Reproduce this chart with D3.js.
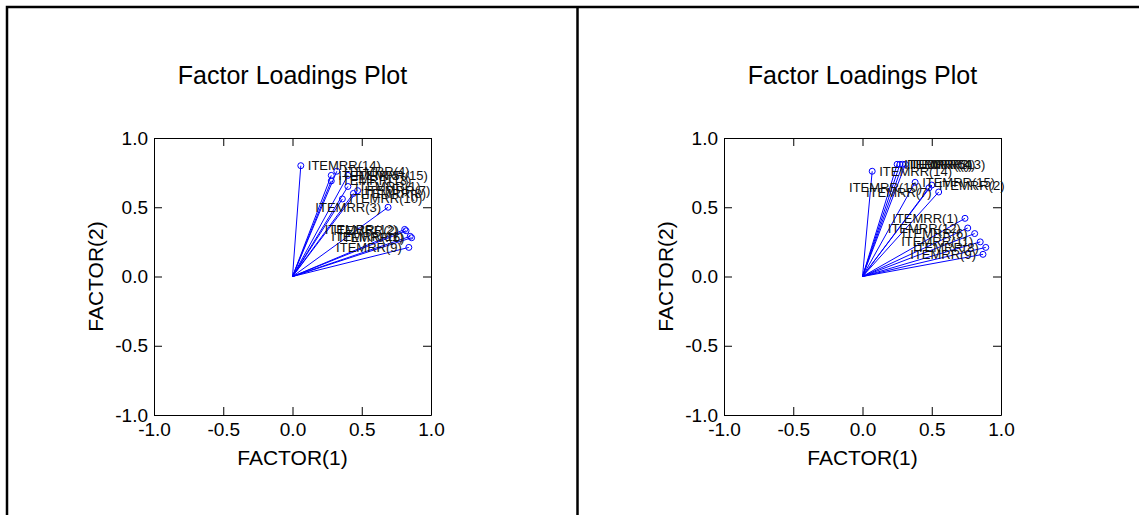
<!DOCTYPE html>
<html>
<head>
<meta charset="utf-8">
<script src="https://cdn.jsdelivr.net/npm/d3@7"></script>
<style>
body { margin: 0; background: #fff; }
text { font-family: Arial, "Liberation Sans", sans-serif; }
</style>
</head>
<body>
<script>
var width = 1139, height = 515;

// item names (same order for both panels)
var items = ["ITEMRR(1)", "ITEMRR(2)", "ITEMRR(3)", "ITEMRR(4)", "ITEMRR(5)",
    "ITEMRR(6)", "ITEMRR(7)", "ITEMRR(8)", "ITEMRR(9)", "ITEMRR(10)",
    "ITEMRR(11)", "ITEMRR(12)", "ITEMRR(13)", "ITEMRR(14)", "ITEMRR(15)"];

// left panel loadings
var leftF1 = [0.40, 0.82, 0.69, 0.32, 0.28, 0.86, 0.47, 0.44, 0.84, 0.36, 0.85, 0.81, 0.28, 0.06, 0.40];
var leftF2 = [0.65, 0.33, 0.50, 0.76, 0.73, 0.28, 0.62, 0.60, 0.21, 0.56, 0.29, 0.34, 0.69, 0.80, 0.73];

// right panel loadings
var rightF1 = [0.74, 0.50, 0.27, 0.29, 0.25, 0.81, 0.55, 0.89, 0.87, 0.48, 0.85, 0.76, 0.31, 0.07, 0.38];
var rightF2 = [0.42, 0.66, 0.81, 0.81, 0.81, 0.31, 0.61, 0.21, 0.16, 0.64, 0.25, 0.35, 0.81, 0.76, 0.68];

var tickValues = [-1, -0.5, 0, 0.5, 1];
var title = "Factor Loadings Plot";
var xTitle = "FACTOR(1)", yTitle = "FACTOR(2)";

var svg = d3.select("body").append("svg")
    .attr("width", width).attr("height", height);

// outer frame: left, top and the divider
svg.append("path")
    .attr("d", "M7," + height + "V7H" + width + "M577.5,7V" + height)
    .attr("fill", "none").attr("stroke", "#000").attr("stroke-width", 2.5);

var size = 277;
var x = d3.scaleLinear().domain([-1, 1]).range([0, size]);
var y = d3.scaleLinear().domain([-1, 1]).range([size, 0]);
var fmt = function(d) { return d.toFixed(1); };

function panel(left, f1, f2) {
    var data = items.map(function(name, i) { return {name: name, f1: f1[i], f2: f2[i]}; });
    var g = svg.append("g").attr("transform", "translate(" + left + ",138)");

    g.append("text").attr("x", size / 2).attr("y", -54)
        .attr("text-anchor", "middle").style("font-size", "25px")
        .text(title);

    g.append("g").attr("transform", "translate(0," + size + ")")
        .call(d3.axisBottom(x).tickValues(tickValues).tickFormat(fmt)
            .tickSizeInner(-8).tickSizeOuter(0).tickPadding(8));
    g.append("g")
        .call(d3.axisLeft(y).tickValues(tickValues).tickFormat(fmt)
            .tickSizeInner(-8).tickSizeOuter(0).tickPadding(6));
    g.append("g")
        .call(d3.axisTop(x).tickValues(tickValues).tickFormat("")
            .tickSizeInner(-8).tickSizeOuter(0));
    g.append("g").attr("transform", "translate(" + size + ",0)")
        .call(d3.axisRight(y).tickValues(tickValues).tickFormat("")
            .tickSizeInner(-8).tickSizeOuter(0));

    g.selectAll(".domain, .tick line").attr("stroke", "#000");
    g.selectAll(".tick text").attr("fill", "#000").style("font-size", "19px")
        .style("font-family", "Arial, 'Liberation Sans', sans-serif");

    g.append("text").attr("x", size / 2).attr("y", size + 50)
        .attr("text-anchor", "middle").style("font-size", "21px")
        .text(xTitle);
    g.append("text")
        .attr("transform", "translate(-51," + (size / 2) + ") rotate(-90)")
        .attr("text-anchor", "middle").style("font-size", "21px")
        .text(yTitle);

    g.selectAll(".vec").data(data).enter().append("line")
        .attr("x1", x(0)).attr("y1", y(0))
        .attr("x2", function(d) { return x(d.f1); })
        .attr("y2", function(d) { return y(d.f2); })
        .attr("stroke", "#0000ff").attr("stroke-width", 1);

    g.selectAll(".pt").data(data).enter().append("circle")
        .attr("cx", function(d) { return x(d.f1); })
        .attr("cy", function(d) { return y(d.f2); })
        .attr("r", 3)
        .attr("fill", "none").attr("stroke", "#0000ff").attr("stroke-width", 1);

    // labels sit right of the point, flipped left when they would leave the box
    g.selectAll(".lbl").data(data).enter().append("text")
        .attr("x", function(d) { return x(d.f1) + 7; })
        .attr("y", function(d) { return y(d.f2); })
        .attr("dy", "0.35em")
        .style("font-size", "13px").attr("fill", "#111")
        .text(function(d) { return d.name; })
        .each(function(d) {
            var w = this.getComputedTextLength();
            if (x(d.f1) + 7 + w > size + 4) {
                d3.select(this).attr("x", x(d.f1) - 7).attr("text-anchor", "end");
            }
        });
}

panel(154, leftF1, leftF2);
panel(724, rightF1, rightF2);
</script>
</body>
</html>
